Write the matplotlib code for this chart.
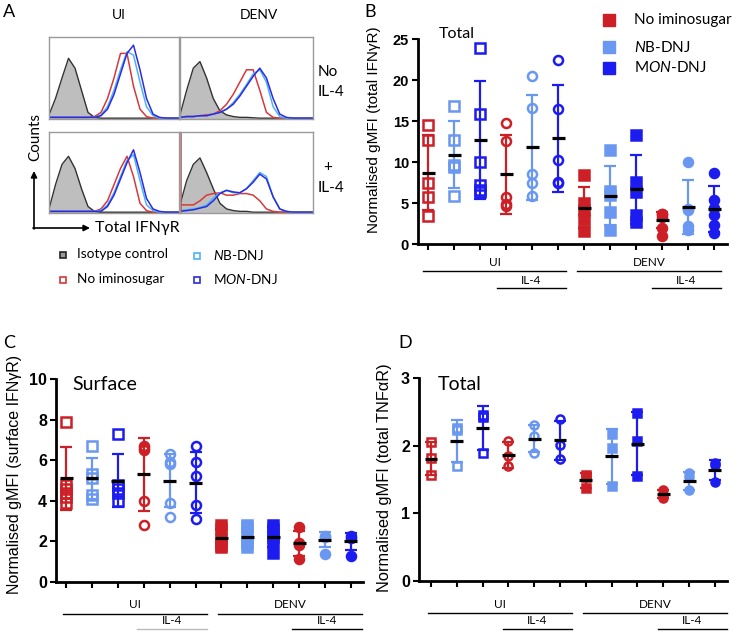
import matplotlib
matplotlib.use('Agg')
import matplotlib.pyplot as plt
import numpy as np

plt.rcParams['mathtext.fontset'] = 'custom'
plt.rcParams['mathtext.rm'] = 'Lato'
plt.rcParams['mathtext.it'] = 'Lato:italic'
plt.rcParams['mathtext.bf'] = 'Lato:bold'

W, H = 740, 632
fig = plt.figure(figsize=(7.4, 6.32), dpi=100)

# ---------------- data ----------------
groups = ['UI', 'UI', 'UI', 'UI+IL-4', 'UI+IL-4', 'UI+IL-4',
          'DENV', 'DENV', 'DENV', 'DENV+IL-4', 'DENV+IL-4', 'DENV+IL-4']
treatments = ['No iminosugar', 'NB-DNJ', 'MON-DNJ'] * 4

# Panel B: total IFNgR
b_points = [
    [14.5, 12.7, 7.4, 5.7, 3.4],
    [16.8, 12.7, 9.6, 9.4, 5.9],
    [23.9, 15.9, 10.0, 7.2, 6.6, 6.3],
    [14.8, 12.6, 5.7, 4.9, 4.6],
    [20.5, 16.6, 8.5, 7.5, 5.9],
    [22.5, 16.5, 10.3, 7.6, 7.5],
    [8.4, 5.0, 4.2, 3.0, 1.6],
    [11.5, 6.5, 6.0, 3.9, 1.7],
    [13.3, 7.6, 6.4, 3.5, 2.7],
    [3.7, 3.6, 3.3, 2.0, 1.0],
    [10.0, 4.3, 4.1, 2.2, 1.7],
    [8.6, 5.4, 4.4, 3.5, 2.3, 1.4],
]
b_means = [8.7, 10.9, 12.7, 8.5, 11.8, 12.9, 4.4, 5.9, 6.7, 2.9, 4.5, 4.3]
b_sds = [4.6, 4.1, 7.2, 4.8, 6.4, 6.5, 2.5, 3.6, 4.2, 1.0, 3.3, 2.8]

# Panel C: surface IFNgR
c_points = [
    [7.86, 4.8, 4.6, 4.4, 4.2, 3.9],
    [6.7, 5.3, 5.1, 4.3, 4.1],
    [7.3, 4.8, 4.6, 4.4, 4.0],
    [6.7, 6.6, 6.5, 4.0, 2.8],
    [6.3, 5.9, 5.8, 3.9, 3.2],
    [6.7, 5.9, 5.2, 3.8, 3.1],
    [2.8, 2.6, 2.1, 1.8, 1.7],
    [2.8, 2.7, 2.2, 1.9, 1.7],
    [2.8, 2.6, 2.2, 2.0, 1.45],
    [2.7, 1.9, 1.8, 1.15],
    [2.25, 2.2, 1.4],
    [2.25, 2.15, 1.3],
]
c_means = [5.1, 5.1, 5.0, 5.3, 5.0, 4.9, 2.15, 2.2, 2.2, 1.9, 2.07, 2.0]
c_sds = [1.55, 1.0, 1.3, 1.8, 1.3, 1.5, 0.45, 0.45, 0.5, 0.6, 0.37, 0.4]

# Panel D: total TNFaR
d_points = [
    [2.06, 1.82, 1.57],
    [2.26, 2.23, 1.70],
    [2.45, 2.43, 1.89],
    [2.07, 1.84, 1.70],
    [2.30, 2.14, 1.89],
    [2.39, 2.01, 1.81],
    [1.57, 1.54, 1.37],
    [2.17, 1.97, 1.40],
    [2.48, 2.07, 1.55],
    [1.34, 1.27, 1.22],
    [1.59, 1.54, 1.34],
    [1.75, 1.71, 1.47],
]
d_means = [1.81, 2.07, 2.26, 1.86, 2.10, 2.08, 1.49, 1.84, 2.03, 1.28, 1.48, 1.64]
d_sds = [0.25, 0.31, 0.32, 0.19, 0.20, 0.29, 0.11, 0.40, 0.47, 0.06, 0.13, 0.15]

# Panel A: flow cytometry histograms (fraction of box height on a common intensity grid)
hist_x = [i * 0.05 for i in range(21)]
ui_noil4_iso = [0.05, 0.25, 0.50, 0.74, 0.62, 0.35, 0.08, 0.02, 0.01, 0.01, 0.01, 0.01, 0.01, 0.01, 0.01, 0.01, 0.01, 0.01, 0.01, 0.01, 0.01]
ui_noil4_no = [0.02, 0.02, 0.02, 0.02, 0.02, 0.02, 0.02, 0.03, 0.08, 0.25, 0.50, 0.80, 0.80, 0.40, 0.12, 0.03, 0.01, 0.01, 0.01, 0.01, 0.01]
ui_noil4_nb = [0.03, 0.02, 0.02, 0.02, 0.02, 0.02, 0.02, 0.02, 0.05, 0.15, 0.35, 0.60, 0.82, 0.78, 0.45, 0.15, 0.04, 0.01, 0.01, 0.01, 0.01]
ui_noil4_mon = [0.02, 0.02, 0.02, 0.02, 0.02, 0.02, 0.02, 0.02, 0.04, 0.12, 0.30, 0.55, 0.80, 0.90, 0.60, 0.25, 0.06, 0.02, 0.01, 0.01, 0.01]
denv_noil4_iso = [0.05, 0.35, 0.62, 0.70, 0.50, 0.25, 0.10, 0.05, 0.03, 0.02, 0.02, 0.015, 0.01, 0.01, 0.01, 0.01, 0.01, 0.01, 0.01, 0.01, 0.01]
denv_noil4_no = [0.02, 0.03, 0.03, 0.04, 0.05, 0.06, 0.10, 0.18, 0.30, 0.45, 0.60, 0.60, 0.35, 0.08, 0.02, 0.01, 0.01, 0.01, 0.01, 0.01, 0.01]
denv_noil4_nb = [0.02, 0.03, 0.03, 0.04, 0.04, 0.06, 0.08, 0.12, 0.20, 0.30, 0.42, 0.55, 0.60, 0.45, 0.15, 0.03, 0.01, 0.01, 0.01, 0.01, 0.01]
denv_noil4_mon = [0.02, 0.03, 0.03, 0.04, 0.04, 0.06, 0.08, 0.12, 0.18, 0.28, 0.40, 0.52, 0.62, 0.50, 0.25, 0.06, 0.02, 0.01, 0.01, 0.01, 0.01]
ui_il4_iso = [0.05, 0.35, 0.60, 0.70, 0.55, 0.30, 0.08, 0.02, 0.01, 0.01, 0.01, 0.01, 0.01, 0.01, 0.01, 0.01, 0.01, 0.01, 0.01, 0.01, 0.01]
ui_il4_no = [0.02, 0.02, 0.02, 0.02, 0.02, 0.02, 0.02, 0.02, 0.05, 0.15, 0.35, 0.55, 0.70, 0.45, 0.12, 0.03, 0.01, 0.01, 0.01, 0.01, 0.01]
ui_il4_nb = [0.02, 0.02, 0.02, 0.02, 0.02, 0.02, 0.02, 0.02, 0.03, 0.10, 0.25, 0.45, 0.65, 0.72, 0.40, 0.10, 0.03, 0.01, 0.01, 0.01, 0.01]
ui_il4_mon = [0.02, 0.02, 0.02, 0.02, 0.02, 0.02, 0.02, 0.02, 0.02, 0.08, 0.22, 0.42, 0.62, 0.78, 0.50, 0.18, 0.05, 0.02, 0.01, 0.01, 0.01]
denv_il4_iso = [0.10, 0.40, 0.60, 0.68, 0.50, 0.30, 0.12, 0.05, 0.03, 0.02, 0.02, 0.01, 0.01, 0.01, 0.01, 0.01, 0.01, 0.01, 0.01, 0.01, 0.01]
denv_il4_no = [0.10, 0.10, 0.10, 0.15, 0.22, 0.24, 0.25, 0.22, 0.22, 0.24, 0.24, 0.22, 0.15, 0.05, 0.02, 0.01, 0.01, 0.01, 0.01, 0.01, 0.01]
denv_il4_nb = [0.03, 0.04, 0.05, 0.07, 0.10, 0.18, 0.25, 0.28, 0.25, 0.25, 0.30, 0.40, 0.50, 0.45, 0.20, 0.05, 0.02, 0.01, 0.01, 0.01, 0.01]
denv_il4_mon = [0.02, 0.03, 0.04, 0.06, 0.08, 0.15, 0.24, 0.28, 0.26, 0.25, 0.30, 0.38, 0.48, 0.42, 0.20, 0.05, 0.02, 0.01, 0.01, 0.01, 0.01]
denv_il4_no_edge_spike = 1.0

# ---------------- styles ----------------
RED = '#CC1F26'
LIGHT = '#6A98F0'
BLUE = '#1C1CF0'
colors = [RED, LIGHT, BLUE] * 4
markers = ['s'] * 3 + ['o'] * 3 + ['s'] * 3 + ['o'] * 3
filled = [False] * 6 + [True] * 6

H_RED = '#D8383A'
H_NB = '#4FB2F5'
H_MON = '#2B2BE0'

SANS = 'Liberation Sans'
CAL = 'Lato'


def fx(x):
    return x / W


def fy(y):
    return 1 - y / H


def axes_px(l, t, r, b):
    return fig.add_axes([fx(l), fy(b), (r - l) / W, (b - t) / H])


# overlay axes in pixel coordinates
ov = fig.add_axes([0, 0, 1, 1], zorder=10)
ov.set_xlim(0, W)
ov.set_ylim(H, 0)
ov.axis('off')
ov.patch.set_alpha(0)


def T(x, y, s, size=10, family=CAL, ha='left', va='center', **kw):
    ov.text(x, y, s, fontsize=size, family=family, ha=ha, va=va, **kw)


# ---------------- Panel A ----------------
boxes = [
    ((49, 37, 179, 119), ui_noil4_iso, ui_noil4_no, ui_noil4_nb, ui_noil4_mon),
    ((180, 37, 313, 119), denv_noil4_iso, denv_noil4_no, denv_noil4_nb, denv_noil4_mon),
    ((49, 132, 179, 213), ui_il4_iso, ui_il4_no, ui_il4_nb, ui_il4_mon),
    ((180, 132, 313, 213), denv_il4_iso, denv_il4_no, denv_il4_nb, denv_il4_mon),
]
for k, (rect, iso, no, nb, mon) in enumerate(boxes):
    ax = axes_px(*rect)
    ax.set_xlim(0, 1)
    ax.set_ylim(0, 1)
    ax.set_xticks([])
    ax.set_yticks([])
    for sp in ax.spines.values():
        sp.set_color('#9a9a9a')
        sp.set_linewidth(1.0)
    ax.fill_between(hist_x, 0, iso, color='#BEBEBE', lw=0)
    ax.plot(hist_x, iso, color='#333333', lw=1.0)
    ax.plot(hist_x, no, color=H_RED, lw=1.1)
    ax.plot(hist_x, nb, color=H_NB, lw=1.1)
    ax.plot(hist_x, mon, color=H_MON, lw=1.1)
    if k == 3:
        ax.plot([0.005, 0.005], [0, denv_il4_no_edge_spike], color=H_RED, lw=1.1)

T(3, 12, 'A', size=13)
T(119, 15, 'UI', size=10, ha='center')
T(259, 15, 'DENV', size=10, ha='center')
T(318, 72, 'No', size=11)
T(318, 92, 'IL-4', size=11)
T(328, 167, '+', size=11, ha='center')
T(318, 188, 'IL-4', size=11)
T(35, 137, 'Counts', size=11, ha='center', rotation=90)
ov.annotate('', xy=(34, 171), xytext=(34, 229),
            arrowprops=dict(arrowstyle='-|>', color='black', lw=1.2, mutation_scale=9, shrinkA=0, shrinkB=0))
ov.annotate('', xy=(90, 228), xytext=(33, 228),
            arrowprops=dict(arrowstyle='-|>', color='black', lw=1.2, mutation_scale=9, shrinkA=0, shrinkB=0))
T(95, 228, 'Total IFNγR', size=11.5)

# legend for A
ov.plot([63], [255], marker='s', ms=5, mfc='#9a9a9a', mec='#222222', mew=1.2, ls='none')
ov.plot([63], [280], marker='s', ms=5, mfc='none', mec=H_RED, mew=1.2, ls='none')
ov.plot([197], [256], marker='s', ms=5, mfc='none', mec=H_NB, mew=1.2, ls='none')
ov.plot([197], [280], marker='s', ms=5, mfc='none', mec=H_MON, mew=1.2, ls='none')
T(77, 254, 'Isotype control', size=9.8)
T(77, 279, 'No iminosugar', size=9.8)
T(213, 255, r'$\it{N}$B-DNJ', size=9.8)
T(213, 279, r'M$\it{ON}$-DNJ', size=9.8)


# ---------------- dot plots ----------------
def dot_panel(rect, xlim, ymax, yticks, points, means, sds, ms, tick_size):
    ax = axes_px(*rect)
    ax.set_xlim(*xlim)
    ax.set_ylim(0, ymax)
    for s in ['top', 'right']:
        ax.spines[s].set_visible(False)
    for s in ['left', 'bottom']:
        ax.spines[s].set_linewidth(2)
    ax.set_xticks(range(12))
    ax.set_xticklabels([])
    ax.set_yticks(yticks)
    ax.set_yticklabels([str(t) for t in yticks], fontsize=tick_size, family=SANS, fontweight='bold')
    ax.tick_params(axis='both', length=4.5, width=1.5, pad=2)
    ax.patch.set_alpha(0)
    for i in range(12):
        c = colors[i]
        ax.errorbar([i], [means[i]], yerr=[[sds[i]], [sds[i]]], color=c, lw=1.6,
                    capsize=4, capthick=1.6, zorder=2)
        pts = points[i]
        ax.plot([i] * len(pts), pts, ls='none', marker=markers[i], ms=ms,
                mfc=(c if filled[i] else 'none'), mec=c, mew=1.8, zorder=3, clip_on=False)
        ax.plot([i - 0.25, i + 0.25], [means[i], means[i]], color='black', lw=2.3, zorder=4,
                solid_capstyle='butt')
    return ax


axB = dot_panel((418, 39, 727, 244), (-0.385, 11.5), 25, [0, 5, 10, 15, 20, 25],
                b_points, b_means, b_sds, 6.5, 10.5)
axC = dot_panel((56, 379, 363, 582), (-0.39, 11.47), 10, [0, 2, 4, 6, 8, 10],
                c_points, c_means, c_sds, 6.5, 11.5)
axD = dot_panel((419, 378, 727, 581), (-0.465, 11.47), 3, [0, 1, 2, 3],
                d_points, d_means, d_sds, 5.8, 11.5)

# panel letters and titles
T(364, 12, 'B', size=13)
T(3, 343, 'C', size=13)
T(398, 343, 'D', size=13)
T(439, 34, 'Total', size=11.5)
T(72, 385, 'Surface', size=14)
T(438, 384, 'Total', size=14)

# y labels
T(374, 130, 'Normalised gMFI (total IFNγR)', size=11, family=SANS, ha='center', rotation=90)
T(15, 474, 'Normalised gMFI (surface IFNγR)', size=11.5, family=SANS, ha='center', rotation=90)
T(384, 478, 'Normalised gMFI (total TNFαR)', size=11.8, family=SANS, ha='center', rotation=90)

# legend for B
leg_y = [20, 47, 68]
leg_txt = ['No iminosugar', r'$\it{N}$B-DNJ', r'M$\it{ON}$-DNJ']
for yy, cc, tt in zip(leg_y, [RED, LIGHT, BLUE], leg_txt):
    ov.plot([609], [yy], marker='s', ms=8.5, color=cc, ls='none')
    T(634, yy, tt, size=11)


# group annotation lines
def group_lines(ui, denv, il4a, il4b, y1, y2, ty1, ty2, il4_color_a='black'):
    ov.plot(ui, [y1, y1], color='black', lw=1)
    ov.plot(denv, [y1, y1], color='black', lw=1)
    ov.plot(il4a, [y2, y2], color=il4_color_a, lw=1)
    ov.plot(il4b, [y2, y2], color='black', lw=1)
    T(sum(ui) / 2, ty1, 'UI', size=8.5, ha='center')
    T(sum(denv) / 2, ty1, 'DENV', size=8.5, ha='center')
    T(sum(il4a) / 2, ty2, 'IL-4', size=8.5, ha='center')
    T(sum(il4b) / 2, ty2, 'IL-4', size=8.5, ha='center')


group_lines((423, 566), (577, 721), (497, 566), (652, 721), 271, 288, 263, 280)
group_lines((63, 207), (218, 362), (137, 207), (292, 362), 614, 629, 605, 620, il4_color_a='#bbbbbb')
group_lines((428, 572), (583, 727), (503, 572), (658, 727), 613, 629, 605, 620)

fig.savefig('out.png', dpi=100)
